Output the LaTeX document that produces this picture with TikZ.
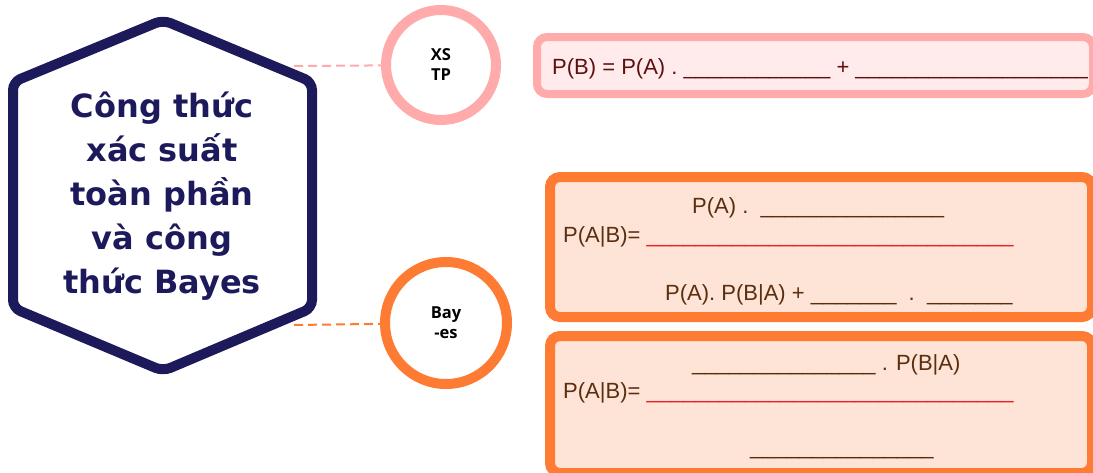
\documentclass[tikz,border=0pt]{standalone}
\usepackage{fontspec}
\setmainfont{Liberation Sans}
\newfontfamily\hexfont{DejaVu Sans}
\newfontfamily\circfont{Open Sans}
\usepackage{xcolor}
\usetikzlibrary{positioning, calc}

\definecolor{navy}{HTML}{1D1A5C}
\definecolor{pinkline}{HTML}{FFABAB}
\definecolor{pinkfill}{HTML}{FFEBEB}
\definecolor{orangeline}{HTML}{FE7B33}
\definecolor{orangefill}{HTML}{FDE4D6}
\definecolor{maroontext}{HTML}{5E1010}
\definecolor{browntext}{HTML}{5C2E10}
\definecolor{fracred}{HTML}{E8202A}

\ExplSyntaxOn
\cs_new:Npn \blank #1 { \prg_replicate:nn {#1} { \_ } }
\ExplSyntaxOff

\tikzset{
  formula/.style={anchor=base west, inner sep=0pt, font=\fontsize{22}{26}\selectfont},
  tag/.style={circle, line width=10pt, fill=white, align=center, inner sep=0pt,
    font=\circfont\bfseries\fontsize{16.5}{20}\selectfont},
  link/.style={line width=2pt, dash pattern=on 9pt off 5pt}
}

\begin{document}
\begin{tikzpicture}[x=1pt, y=-1pt]
\path[use as bounding box] (0,0) rectangle (1093,472);
\clip (0,0) rectangle (1093,472);

% formula boxes
\draw[pinkline, fill=pinkfill, line width=8pt, rounded corners=10pt] (537,37) rectangle (1093,94);
\draw[orangeline, fill=orangefill, line width=10pt, rounded corners=10pt] (550,177) rectangle (1092,317);
\draw[orangeline, fill=orangefill, line width=10pt, rounded corners=10pt] (550,336) rectangle (1092,473);

% hexagon
\coordinate (hexa) at (294,66);
\coordinate (hexb) at (294,325);
\draw[navy, line width=10pt, rounded corners=8pt] (163,20) -- (312,82) -- (312,308) -- (163,371) -- (13,308) -- (13,82) -- cycle;
\node[align=center, text=navy, font=\hexfont\bfseries\fontsize{32}{44}\selectfont] (title) at (162,196)
  {Công thức\\xác suất\\toàn phần\\và công\\thức Bayes};

% circles
\node[tag, draw=pinkline, minimum size=110pt] (xstp) at (441,65) {XS\\TP};
\node[tag, draw=orangeline, minimum size=122pt] (bayes) at (446,323) {Bay\\-es};
\draw[link, pinkline] (hexa) -- (xstp);
\draw[link, orangeline] (hexb) -- (bayes);

% total probability
\node[formula, text=maroontext] (total) at (552,74) {P(B) = P(A) . \blank{12} + \blank{19}};

% Bayes, first form
\node[formula, text=browntext] (numa) at (692,213) {P(A) .\ \ \blank{15}};
\node[formula, text=browntext] (lhsa) at (563,242) {P(A|B)= \textcolor{fracred}{\blank{30}}};
\node[formula, text=browntext] (dena) at (665,300) {P(A). P(B|A) + \blank{7}\ \ .\ \ \blank{7}};

% Bayes, second form
\node[formula, text=browntext] (numb) at (692,370) {\blank{15} . P(B|A)};
\node[formula, text=browntext] (lhsb) at (563,398) {P(A|B)= \textcolor{fracred}{\blank{30}}};
\node[formula, text=browntext] (denb) at (750,454) {\blank{15}};
\end{tikzpicture}
\end{document}
